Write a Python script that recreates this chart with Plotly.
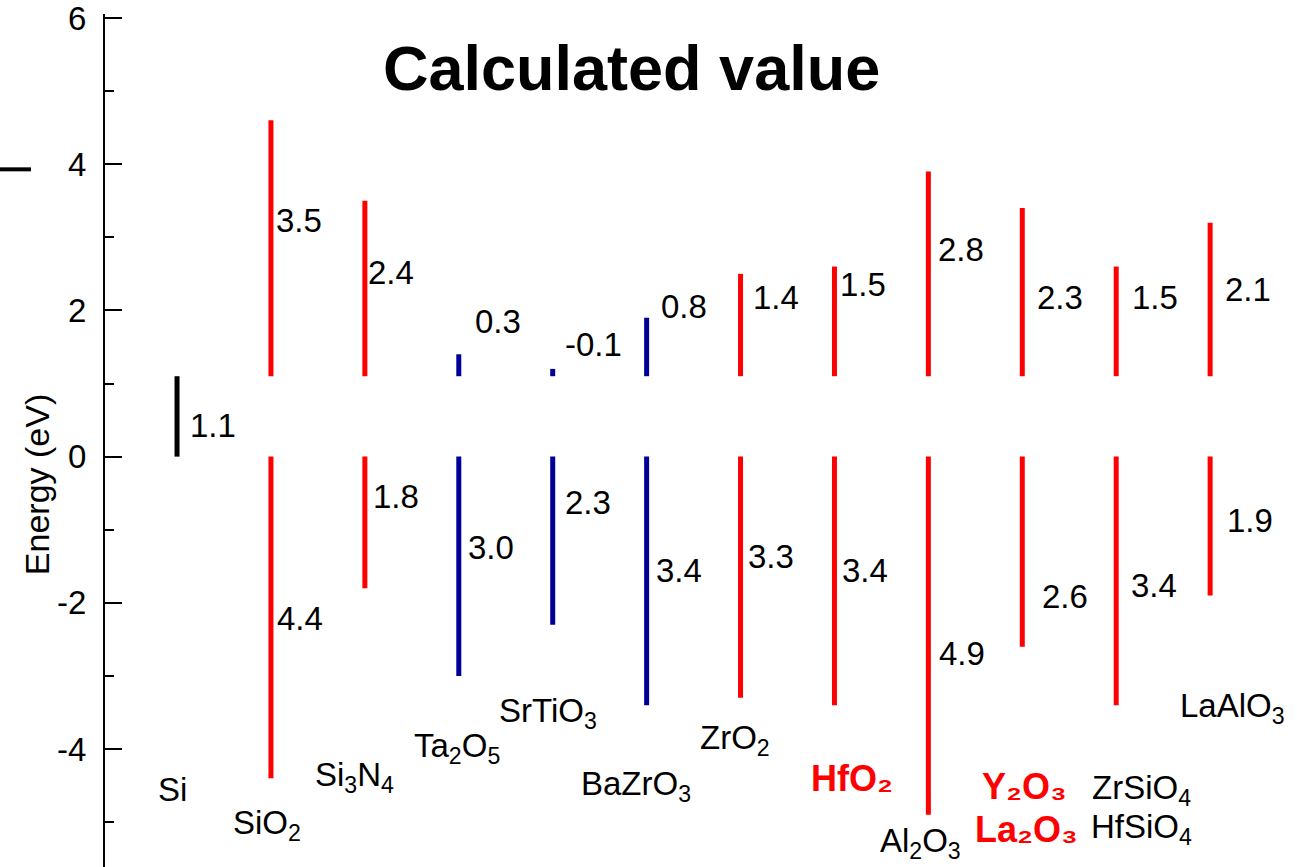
import plotly.graph_objects as go

# ---- data -------------------------------------------------------------
materials = ["Si", "SiO2", "Si3N4", "Ta2O5", "SrTiO3", "BaZrO3", "ZrO2",
             "HfO2", "Al2O3", "Y2O3/La2O3", "ZrSiO4/HfSiO4", "LaAlO3"]
si_gap = 1.1
# conduction-band offset (above Si CB) and valence-band offset (below Si VB), eV
cb_offset = [None, 3.5, 2.4, 0.3, -0.1, 0.8, 1.4, 1.5, 2.8, 2.3, 1.5, 2.1]
vb_offset = [None, 4.4, 1.8, 3.0, 2.3, 3.4, 3.3, 3.4, 4.9, 2.6, 3.4, 1.9]
group = ["si", "red", "red", "blue", "blue", "blue", "red",
         "red", "red", "red", "red", "red"]

# formula labels under the bars: (text, material index, highlighted)
formula_labels = [
    ("Si", 0, False),
    ("SiO<sub>2</sub>", 1, False),
    ("Si<sub>3</sub>N<sub>4</sub>", 2, False),
    ("Ta<sub>2</sub>O<sub>5</sub>", 3, False),
    ("SrTiO<sub>3</sub>", 4, False),
    ("BaZrO<sub>3</sub>", 5, False),
    ("ZrO<sub>2</sub>", 6, False),
    ("HfO₂", 7, True),
    ("Al<sub>2</sub>O<sub>3</sub>", 8, False),
    ("Y₂O₃", 9, True),
    ("La₂O₃", 9, True),
    ("ZrSiO<sub>4</sub>", 10, False),
    ("HfSiO<sub>4</sub>", 10, False),
    ("LaAlO<sub>3</sub>", 11, False),
]

y_ticks = [-6, -4, -2, 0, 2, 4, 6]

# ---- layout helpers (pixel shifts / label anchors) -----------------------
colors = {"si": "#000000", "red": "#FF0000", "blue": "#000096"}
FONT = "Liberation Sans, Arial, sans-serif"

cb_label_pos = [None, (3, 3.23), (1, 2.52), (14, 1.85), (10, 1.54), (12, 2.05),
                (10, 2.17), (4, 2.35), (8, 2.83), (13, 2.18), (14, 2.18), (13, 2.29)]
vb_label_pos = [(11, 0.42), (4, -2.22), (6, -0.54), (7, -1.24), (10, -0.63),
                (7, -1.56), (5, -1.37), (6, -1.56), (9, -2.70), (18, -1.92),
                (13, -1.76), (15, -0.87)]
formula_pos = [(-5, -4.56), (-4, -5.04), (-10, -4.38), (-2, -3.99), (-5, -3.51),
               (-11, -4.51), (-6, -3.88), (18, -4.40), (-8, -5.29), (2, -4.51),
               (4, -5.10), (25, -4.56), (25, -5.10), (22, -3.44)]

fig = go.Figure()
annotations = []

for i, name in enumerate(materials):
    col = colors[group[i]]
    if i == 0:
        segs = [(0.0, si_gap)]
    else:
        segs = [(si_gap, si_gap + abs(cb_offset[i])), (0.0, -vb_offset[i])]
    for y0, y1 in segs:
        fig.add_trace(go.Scatter(
            x=[i, i], y=[y0, y1], mode="lines",
            line=dict(color=col, width=5),
            showlegend=False, hoverinfo="skip"))

    # numeric labels
    if i == 0:
        dx, yy = vb_label_pos[0]
        annotations.append(dict(x=i, y=yy, xshift=dx, text=f"{si_gap:.1f}",
                                xanchor="left", yanchor="middle", showarrow=False,
                                font=dict(family=FONT, size=33, color="black")))
    else:
        dx, yy = cb_label_pos[i]
        annotations.append(dict(x=i, y=yy, xshift=dx, text=f"{cb_offset[i]:.1f}",
                                xanchor="left", yanchor="middle", showarrow=False,
                                font=dict(family=FONT, size=33, color="black")))
        dx, yy = vb_label_pos[i]
        annotations.append(dict(x=i, y=yy, xshift=dx, text=f"{vb_offset[i]:.1f}",
                                xanchor="left", yanchor="middle", showarrow=False,
                                font=dict(family=FONT, size=33, color="black")))

for (text, idx, hl), (dx, yy) in zip(formula_labels, formula_pos):
    if hl:
        txt = f"<b>{text}</b>"
        fnt = dict(family=FONT, size=36, color="#FF0000")
    else:
        txt = text
        fnt = dict(family=FONT, size=33, color="black")
    annotations.append(dict(x=idx, y=yy, xshift=dx, text=txt, xanchor="center",
                            yanchor="middle", showarrow=False, font=fnt))

# title
annotations.append(dict(xref="paper", x=0.4417, y=5.32, text="<b>Calculated value</b>",
                        xanchor="center", yanchor="middle", showarrow=False,
                        font=dict(family=FONT, size=63, color="black")))
# y-axis title
annotations.append(dict(xref="paper", x=0, xshift=-68, y=-0.39, text="Energy (eV)",
                        textangle=-90, xanchor="center", yanchor="middle",
                        showarrow=False, font=dict(family=FONT, size=34, color="black")))

fig.update_layout(
    width=1297, height=867,
    margin=dict(l=105, r=0, t=14, b=0),
    paper_bgcolor="white", plot_bgcolor="white",
    annotations=annotations,
    shapes=[dict(type="line", xref="paper", yref="y", x0=-0.0881, x1=-0.0621,
                 y0=3.93, y1=3.93, line=dict(color="black", width=4))],
    xaxis=dict(visible=False, range=[-0.767, 11.925]),
    yaxis=dict(range=[-5.614, 6.055], tickvals=y_ticks,
               ticktext=[str(v) for v in y_ticks],
               ticks="inside", ticklen=17, tickwidth=2, tickcolor="black",
               showline=True, linewidth=2, linecolor="black",
               showgrid=False, zeroline=False, ticklabelstandoff=10,
               ticklabeloverflow="allow",
               tickfont=dict(family=FONT, size=33, color="black"),
               minor=dict(ticks="inside", ticklen=9, tickwidth=2, dtick=1,
                          tick0=0, tickcolor="black", showgrid=False)),
)

fig.write_html("out.html")
